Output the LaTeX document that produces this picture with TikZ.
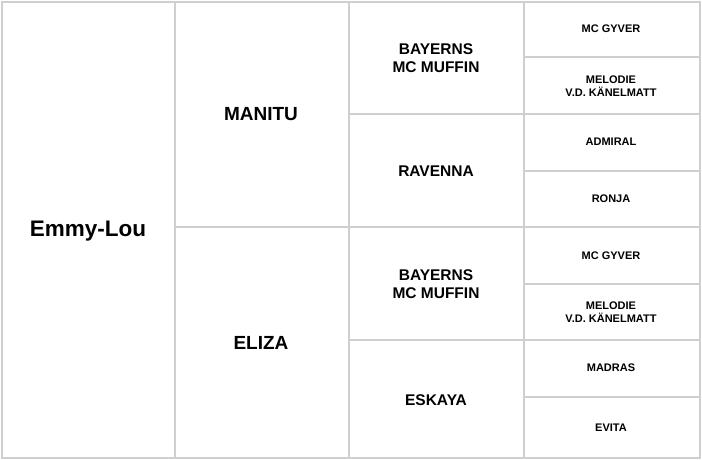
\documentclass[tikz,border=0pt]{standalone}
\usepackage{fontspec}
\setmainfont{Liberation Sans}
\tikzset{
  grid/.style={draw=gray!38, line width=1.4pt},
  name1/.style={font=\bfseries\fontsize{22.5}{26}\selectfont},
  name2/.style={font=\bfseries\fontsize{19}{22}\selectfont},
  name3/.style={font=\bfseries\fontsize{15.5}{18}\selectfont, align=center},
  name4/.style={font=\bfseries\fontsize{11}{12.4}\selectfont, align=center}
}
\begin{document}
\begin{tikzpicture}[x=1pt,y=-1pt]
                \useasboundingbox [fill=white] (0,0) rectangle (702,460);
                % rahmen und spalten
                \draw [grid] (2,2)--(700,2)--(700,458)--(2,458)--cycle;
                \draw [grid] (175,2)--(175,458);
                \draw [grid] (349,2)--(349,458);
                \draw [grid] (524,2)--(524,458);
                \draw [grid] (175,227)--(700,227);
                \draw [grid] (349,114)--(700,114);
                \draw [grid] (349,340)--(700,340);
                \foreach \y in {57,171,284,397}
                    \draw [grid] (524,\y)--(700,\y);
                % namen
                \node [name1] (emmy) at (88,231) {Emmy-Lou};
                \node [name2] (manitu) at (261,114) {MANITU};
                \node [name2] (eliza) at (261,343) {ELIZA};
                \node [name3] (bayerns1) at (436,58) {BAYERNS\\MC MUFFIN};
                \node [name3] (ravenna) at (436,171) {RAVENNA};
                \node [name3] (bayerns2) at (436,284) {BAYERNS\\MC MUFFIN};
                \node [name3] (eskaya) at (436,400) {ESKAYA};
                \node [name4] (gyver1) at (611,29) {MC GYVER};
                \node [name4] (melodie1) at (611,86) {MELODIE\\V.D. KÄNELMATT};
                \node [name4] (admiral) at (611,142) {ADMIRAL};
                \node [name4] (ronja) at (611,199) {RONJA};
                \node [name4] (gyver2) at (611,256) {MC GYVER};
                \node [name4] (melodie2) at (611,312) {MELODIE\\V.D. KÄNELMATT};
                \node [name4] (madras) at (611,368) {MADRAS};
                \node [name4] (evita) at (611,428) {EVITA};
\end{tikzpicture}
\end{document}
